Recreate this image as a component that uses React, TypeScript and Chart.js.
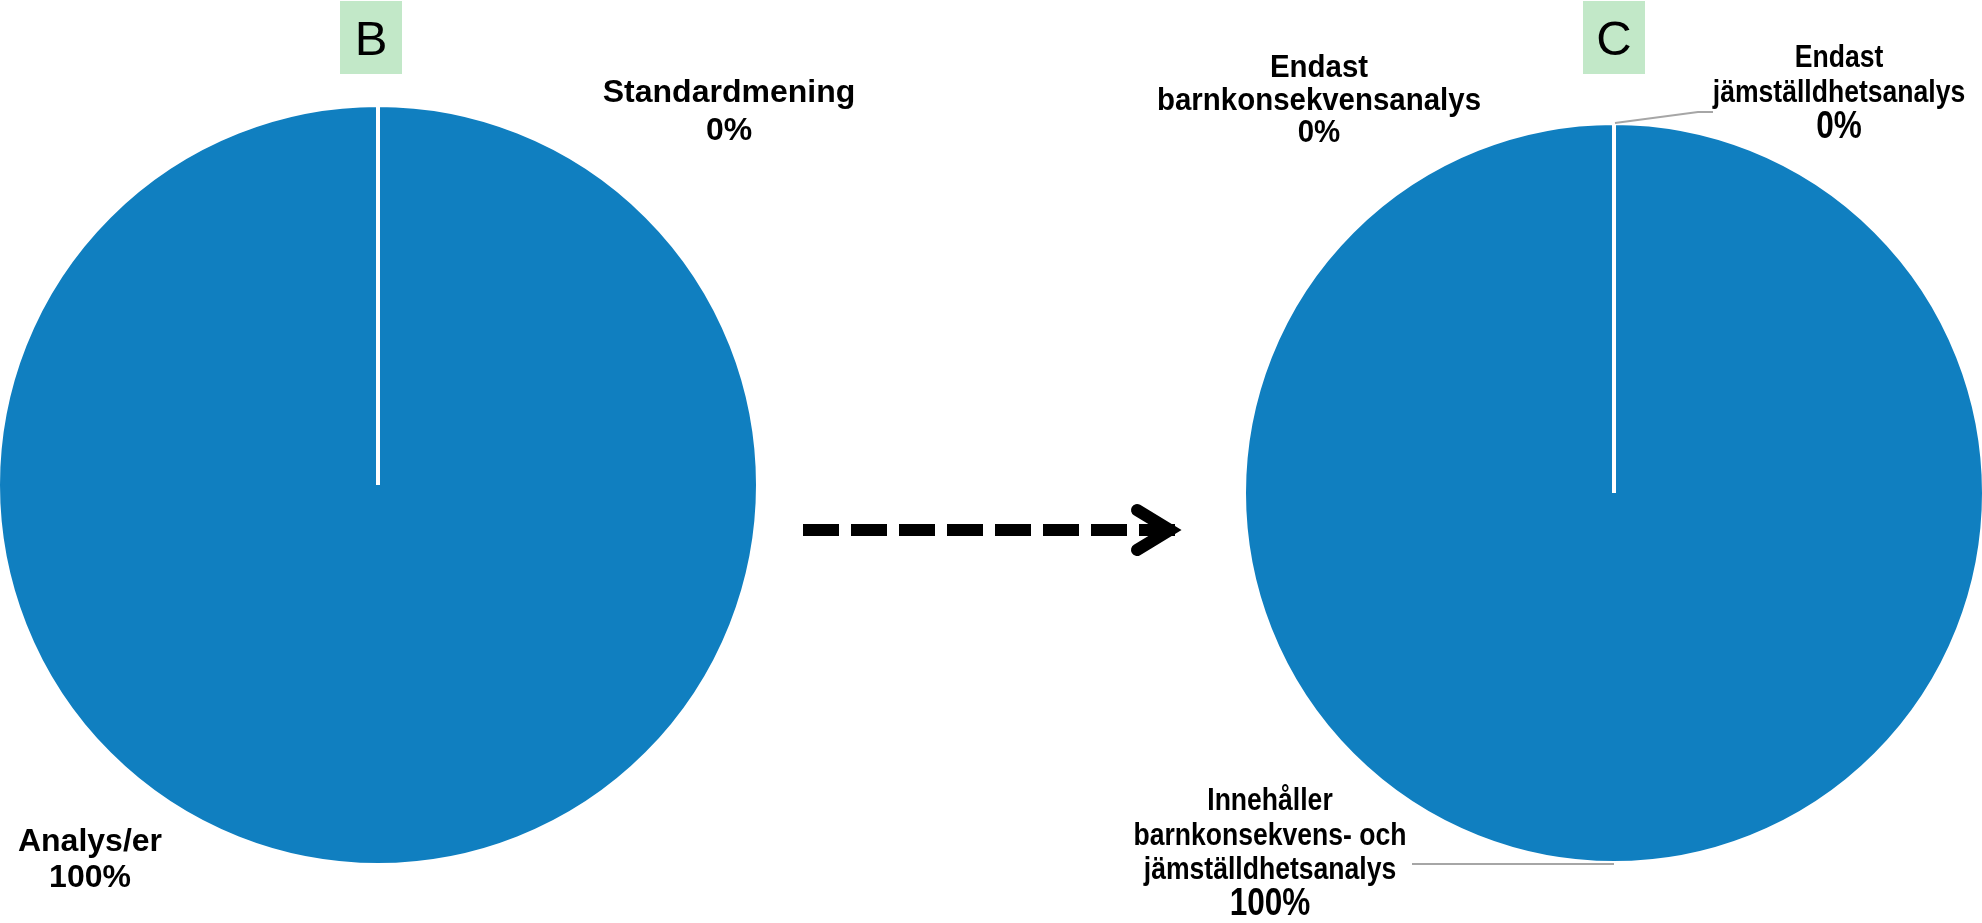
import React, { useEffect, useRef } from 'react';
import { Chart, registerables } from 'chart.js';

Chart.register(...registerables);

// ---- Data ----
const chartBLabels = ['Analys/er', 'Standardmening'];
const chartBValues = [100, 0];
const chartBLabelLines = [['Analys/er'], ['Standardmening']];

const chartCLabels = [
  'Innehåller barnkonsekvens- och jämställdhetsanalys',
  'Endast barnkonsekvensanalys',
  'Endast jämställdhetsanalys',
];
const chartCValues = [100, 0, 0];
const chartCLabelLines = [
  ['Innehåller', 'barnkonsekvens- och', 'jämställdhetsanalys'],
  ['Endast', 'barnkonsekvensanalys'],
  ['Endast', 'jämställdhetsanalys'],
];

const panelTitles = ['B', 'C'];

// ---- Styles / layout ----
const PIE_BLUE = '#107FC0';
const TITLE_BG = '#C2E8C8';
const LEADER = '#A6A6A6';

type LabelPos = { x: number; y: number; lh: number; size: number; pctSize: number; sx: number };

const layoutB = {
  canvasLeft: -10,
  canvasWidth: 1250,
  padding: { left: 6, top: 103, right: 480, bottom: 56 },
  title: { x: 340, y: 1, w: 62, h: 73 },
  labelPos: [
    { x: 90, y: 851, lh: 36, size: 32, pctSize: 32, sx: 1 },
    { x: 729, y: 102, lh: 38, size: 32, pctSize: 32, sx: 1 },
  ] as LabelPos[],
  leaders: [] as number[][][],
  arrow: true,
};

const layoutC = {
  canvasLeft: 1100,
  canvasWidth: 890,
  padding: { left: 142, top: 121, right: 4, bottom: 58 },
  title: { x: 1583, y: 1, w: 62, h: 73 },
  labelPos: [
    { x: 1270, y: 810, lh: 34.5, size: 32, pctSize: 38, sx: 0.83 },
    { x: 1319, y: 77, lh: 32.5, size: 32, pctSize: 32, sx: 0.92 },
    { x: 1839, y: 67, lh: 34.5, size: 32, pctSize: 38, sx: 0.83 },
  ] as LabelPos[],
  leaders: [
    [[1412, 864], [1614, 864]],
    [[1615, 123], [1698, 112], [1713, 112]],
  ],
  arrow: false,
};

const overlayPlugin = {
  id: 'overlay',
  afterDraw(chart: any, _args: any, opts: any) {
    const ctx: CanvasRenderingContext2D = chart.ctx;
    const L = opts.layout;
    const ox = L.canvasLeft;
    const ds = chart.data.datasets[0];
    ctx.save();
    // title box
    ctx.fillStyle = TITLE_BG;
    ctx.fillRect(L.title.x - ox, L.title.y, L.title.w, L.title.h);
    ctx.fillStyle = '#000';
    ctx.font = '49px "Liberation Sans", Arial, sans-serif';
    ctx.textAlign = 'center';
    ctx.textBaseline = 'alphabetic';
    ctx.fillText(opts.title, L.title.x + L.title.w / 2 - ox, 55);

    // leader lines
    ctx.strokeStyle = LEADER;
    ctx.lineWidth = 2;
    for (const pts of L.leaders) {
      ctx.beginPath();
      pts.forEach((p: number[], i: number) => {
        if (i === 0) ctx.moveTo(p[0] - ox, p[1]);
        else ctx.lineTo(p[0] - ox, p[1]);
      });
      ctx.stroke();
    }

    // labels
    ctx.fillStyle = '#000';
    opts.lines.forEach((lines: string[], i: number) => {
      const pos: LabelPos = L.labelPos[i];
      const all = [...lines, `${ds.data[i]}%`];
      all.forEach((t, k) => {
        const isPct = k === all.length - 1;
        const size = isPct ? pos.pctSize : pos.size;
        ctx.font = `bold ${size}px "Liberation Sans", Arial, sans-serif`;
        ctx.save();
        ctx.translate(pos.x - ox, pos.y + k * pos.lh + (isPct ? (size - pos.size) * 0.3 : 0));
        ctx.scale(pos.sx, 1);
        ctx.fillText(t, 0, 0);
        ctx.restore();
      });
    });

    // arrow
    if (L.arrow) {
      ctx.fillStyle = '#000';
      for (let i = 0; i < 8; i++) {
        const x0 = 803 + i * 48 - ox;
        ctx.fillRect(x0, 524, 36, 12);
      }
      ctx.strokeStyle = '#000';
      ctx.lineWidth = 12;
      ctx.lineCap = 'round';
      ctx.lineJoin = 'miter';
      ctx.beginPath();
      ctx.moveTo(1137 - ox, 510);
      ctx.lineTo(1170 - ox, 530);
      ctx.lineTo(1137 - ox, 550);
      ctx.stroke();
    }
    ctx.restore();
  },
};

function PieChart(props: {
  labels: string[];
  values: number[];
  lines: string[][];
  title: string;
  layout: any;
}) {
  const ref = useRef<HTMLCanvasElement | null>(null);
  useEffect(() => {
    if (!ref.current) return;
    const chart = new Chart(ref.current, {
      type: 'pie',
      data: {
        labels: props.labels,
        datasets: [
          {
            data: props.values,
            backgroundColor: props.values.map(() => PIE_BLUE),
            borderColor: '#FFFFFF',
            borderWidth: 4,
            hoverBorderWidth: 4,
          },
        ],
      },
      options: {
        animation: false,
        responsive: false,
        maintainAspectRatio: false,
        events: [],
        layout: { padding: props.layout.padding },
        plugins: {
          legend: { display: false },
          tooltip: { enabled: false },
          overlay: { layout: props.layout, lines: props.lines, title: props.title },
        } as any,
      },
      plugins: [overlayPlugin],
    });
    return () => chart.destroy();
  }, []);
  return (
    <canvas
      ref={ref}
      width={props.layout.canvasWidth}
      height={923}
      style={{
        position: 'absolute',
        left: props.layout.canvasLeft,
        top: 0,
        width: props.layout.canvasWidth,
        height: 923,
      }}
    />
  );
}

export default function App() {
  return (
    <div
      style={{
        position: 'fixed',
        left: 0,
        top: 0,
        width: 1982,
        height: 923,
        overflow: 'hidden',
        background: '#FFFFFF',
      }}
    >
      <PieChart
        labels={chartBLabels}
        values={chartBValues}
        lines={chartBLabelLines}
        title={panelTitles[0]}
        layout={layoutB}
      />
      <PieChart
        labels={chartCLabels}
        values={chartCValues}
        lines={chartCLabelLines}
        title={panelTitles[1]}
        layout={layoutC}
      />
    </div>
  );
}
